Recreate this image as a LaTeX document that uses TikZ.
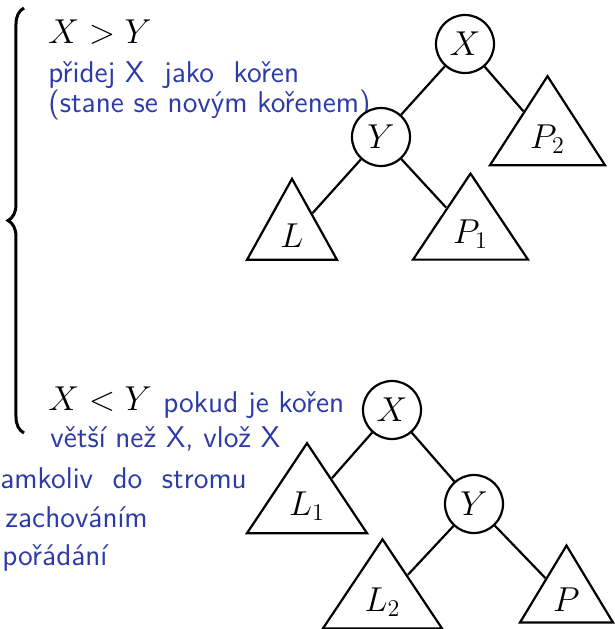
\documentclass[tikz,border=0pt]{standalone}
\usepackage{fontspec}
\usepackage{tikz}
\usetikzlibrary{shapes.geometric,decorations.pathreplacing}
\definecolor{cnote}{HTML}{2B3BA8}
\tikzset{
  key/.style={circle, draw, line width=1.1pt, minimum size=29pt, inner sep=0pt, font=\LARGE, fill=white},
  subtree/.style={isosceles triangle, isosceles triangle stretches, shape border rotate=90, draw, line width=1.1pt, inner sep=0pt, font=\LARGE},
  branch/.style={line width=1.1pt},
  cond/.style={anchor=base west, inner sep=0pt, font=\LARGE},
  note/.style={anchor=base west, inner sep=0pt, text=cnote, font=\sffamily\fontsize{15}{18}\selectfont},
}

\begin{document}
\begin{tikzpicture}[x=0.5pt,y=-0.5pt]
\useasboundingbox (0,0) rectangle (615,629);
% case X > Y
\draw[line width=1.5pt, decorate, decoration={brace, amplitude=8pt}] (24,433) -- (24,8);
\node[cond] (gt) at (48,43) {$X > Y$};
\node[note] (gt1) at (48,82) {přidej X\ \ jako\ \ kořen};
\node[note] (gt2) at (48,112) {(stane se novým kořenem)};
\node[key] (xa) at (465,44) {$X$};
\node[key] (ya) at (381,137) {$Y$};
\node[subtree, minimum width=45pt, minimum height=40.5pt] (la) at (292,236) {$L$};
\node[subtree, minimum width=57.5pt, minimum height=43pt] (pa1) at (470.5,234) {$P_1$};
\node[subtree, minimum width=57.5pt, minimum height=44.5pt] (pa2) at (547.5,139) {$P_2$};
\draw[branch] (xa) -- (ya);
\draw[branch] (xa) -- (pa2);
\draw[branch] (ya) -- (la);
\draw[branch] (ya) -- (pa1);
% case X < Y
\node[cond] (lt) at (48,410) {$X < Y$};
\node[note] (lt1) at (163,412) {pokud je kořen};
\node[note] (lt2) at (50,447) {větší než X, vlož X};
\node[note] (lt3) at (0,488) {amkoliv\ \ do\ \ stromu};
\node[note] (lt4) at (5,527) {zachováním};
\node[note] (lt5) at (2,565) {pořádání};
\node[key] (xb) at (392,410) {$X$};
\node[key] (yb) at (474,504) {$Y$};
\node[subtree, minimum width=60pt, minimum height=45pt] (lb1) at (307,506.5) {$L_1$};
\node[subtree, minimum width=59.5pt, minimum height=44.5pt] (lb2) at (382.5,602) {$L_2$};
\node[subtree, minimum width=46.5pt, minimum height=38.5pt] (pb) at (566.5,600) {$P$};
\draw[branch] (xb) -- (lb1);
\draw[branch] (xb) -- (yb);
\draw[branch] (yb) -- (lb2);
\draw[branch] (yb) -- (pb);
\end{tikzpicture}
\end{document}
